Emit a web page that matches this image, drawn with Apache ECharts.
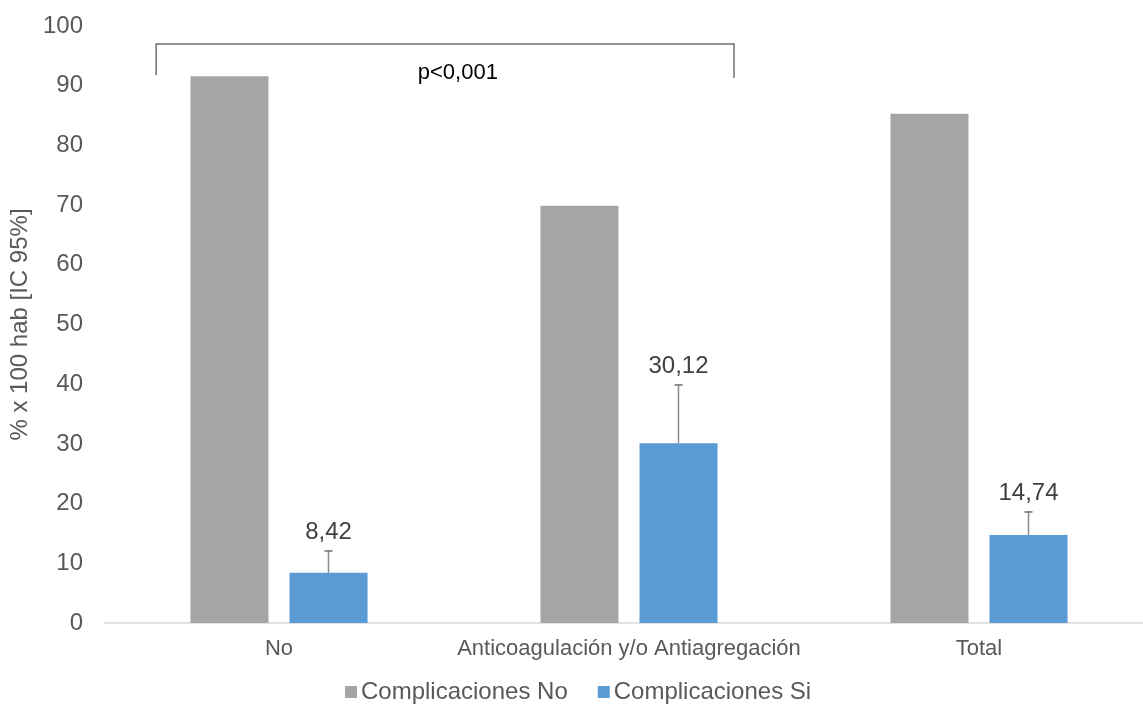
<!DOCTYPE html>
<html>
<head>
<meta charset="utf-8">
<script src="https://cdn.jsdelivr.net/npm/echarts@6/dist/echarts.min.js"></script>
<style>html,body{margin:0;padding:0;background:#fff;overflow:hidden;width:1143px;height:704px}#c{width:1160px;height:704px}</style>
</head>
<body>
<div id="c"></div>
<script>
var categories = ['No', 'Anticoagulación y/o Antiagregación', 'Total'];
var seriesNames = ['Complicaciones No', 'Complicaciones Si'];
var complicacionesNo = [91.6, 69.9, 85.3];
var complicacionesSi = [8.42, 30.12, 14.74];
var complicacionesSiUpper = [12.06, 39.87, 18.6];
var yTicks = { min: 0, max: 100, interval: 10 };
var bracket = { fromCategory: 0, toCategory: 1, leftBottom: 91.8, rightBottom: 91.3, top: 97.0, text: 'p<0,001', textValue: 92.2 };

var FONT = '"Liberation Sans", Arial, sans-serif';
function fmt(v) { return v.toFixed(2).replace('.', ','); }

var chart = echarts.init(document.getElementById('c'));
var errData = categories.map(function (c, i) { return [i, complicacionesSi[i], complicacionesSiUpper[i]]; });

chart.setOption({
  animation: false,
  textStyle: { fontFamily: FONT },
  grid: { left: 104, top: 26, width: 1050, height: 597 },
  legend: {
    bottom: -5,
    left: 340,
    itemWidth: 12, itemHeight: 12, itemGap: 30,
    icon: 'rect',
    data: seriesNames,
    textStyle: { fontSize: 24, color: '#595959', fontFamily: FONT, padding: [0, 0, 0, -1] }
  },
  xAxis: {
    type: 'category',
    data: categories,
    axisLine: { lineStyle: { color: '#d9d9d9', width: 1.5 } },
    axisTick: { show: false },
    axisLabel: { fontSize: 22, color: '#595959', margin: 15, interval: 0, fontFamily: FONT }
  },
  yAxis: {
    type: 'value',
    min: yTicks.min, max: yTicks.max, interval: yTicks.interval,
    name: '% x 100 hab [IC 95%]',
    nameLocation: 'middle',
    nameRotate: 90,
    nameGap: 68,
    nameTextStyle: { fontSize: 24, color: '#595959', fontFamily: FONT },
    splitLine: { show: false },
    axisLine: { show: false },
    axisTick: { show: false },
    axisLabel: { fontSize: 24, color: '#595959', margin: 21, fontFamily: FONT }
  },
  series: [
    {
      name: seriesNames[0], type: 'bar', data: complicacionesNo,
      barWidth: 78, barGap: '27%',
      itemStyle: { color: '#A5A5A5' }
    },
    {
      name: seriesNames[1], type: 'bar', data: complicacionesSi,
      barWidth: 78, barGap: '27%',
      itemStyle: { color: '#5B9BD5' }
    },
    {
      type: 'custom',
      name: 'err',
      data: errData,
      z: 5,
      renderItem: function (params, api) {
        var i = api.value(0);
        var lo = api.coord([i, api.value(1)]);
        var hi = api.coord([i, api.value(2)]);
        var x = lo[0] + 49.5;
        return {
          type: 'group',
          children: [
            { type: 'line', shape: { x1: x, y1: lo[1], x2: x, y2: hi[1] }, style: { stroke: '#8c8c8c', lineWidth: 1.5 } },
            { type: 'line', shape: { x1: x - 4, y1: hi[1], x2: x + 4, y2: hi[1] }, style: { stroke: '#6d6d6d', lineWidth: 1.5 } },
            { type: 'text', style: { text: fmt(api.value(1)), x: x, y: hi[1] - 7, align: 'center', verticalAlign: 'bottom', fontSize: 24, fill: '#404040', fontFamily: FONT } }
          ]
        };
      }
    },
    {
      type: 'custom',
      name: 'bracket',
      data: [[bracket.fromCategory, bracket.toCategory, bracket.leftBottom, bracket.rightBottom, bracket.top, bracket.textValue]],
      z: 5,
      renderItem: function (params, api) {
        var band = api.size([1, 0])[0];
        var l = api.coord([api.value(0), api.value(2)]);
        var r = api.coord([api.value(1), api.value(3)]);
        var t = api.coord([api.value(0), api.value(4)]);
        var tv = api.coord([api.value(0), api.value(5)]);
        var xl = l[0] - 0.351 * band;
        var xr = r[0] + 0.3 * band;
        return {
          type: 'group',
          children: [
            { type: 'polyline', shape: { points: [[xl, l[1]], [xl, t[1]], [xr, t[1]], [xr, r[1]]] }, style: { stroke: '#707070', lineWidth: 1.5, fill: null } },
            { type: 'text', style: { text: bracket.text, x: l[0] + 0.511 * band, y: tv[1], align: 'center', verticalAlign: 'middle', fontSize: 22, fill: '#000000', fontFamily: FONT } }
          ]
        };
      }
    }
  ]
});
</script>
</body>
</html>
